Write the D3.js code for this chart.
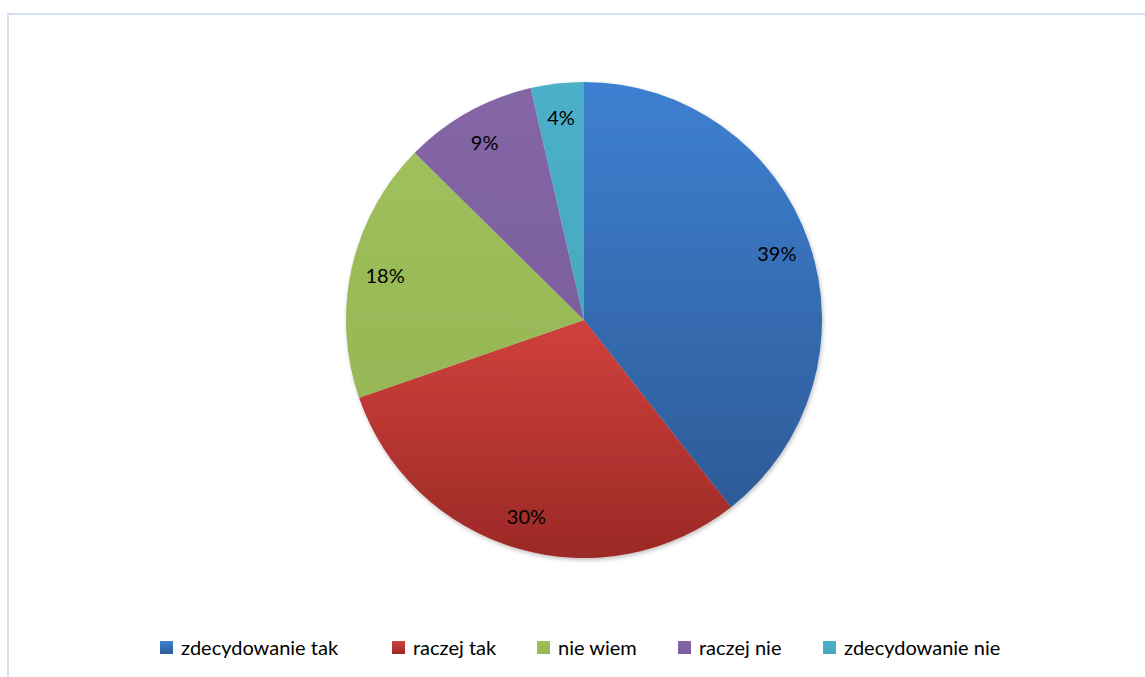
<!DOCTYPE html>
<html><head><meta charset="utf-8">
<script src="https://cdn.jsdelivr.net/npm/d3@7"></script>
<style>body{margin:0;background:#fff;} svg{display:block;}</style>
</head><body>
<script>
const categories = ["zdecydowanie tak", "raczej tak", "nie wiem", "raczej nie", "zdecydowanie nie"];
const values = [39.4, 30.3, 17.7, 9.0, 3.6];
const labels = ["39%", "30%", "18%", "9%", "4%"];
const colorsTop = ["#3e80d1", "#d0413d", "#9fc05c", "#8466a6", "#4cb0ca"];
const colorsBottom = ["#2d5b97", "#9b2926", "#97b656", "#7c609e", "#48a8c1"];

const W = 1145, H = 677;
const svg = d3.select("body").append("svg").attr("width", W).attr("height", H);
const defs = svg.append("defs");
categories.forEach((c, i) => {
  const g = defs.append("linearGradient").attr("id", "g" + i)
    .attr("x1", 0).attr("y1", 0).attr("x2", 0).attr("y2", 1);
  g.append("stop").attr("offset", "0%").attr("stop-color", colorsTop[i]);
  g.append("stop").attr("offset", "100%").attr("stop-color", colorsBottom[i]);
});
const f = defs.append("filter").attr("id", "sh").attr("x", "-10%").attr("y", "-10%").attr("width", "120%").attr("height", "120%");
f.append("feDropShadow").attr("dx", 1).attr("dy", 2).attr("stdDeviation", 2).attr("flood-color", "#000").attr("flood-opacity", 0.25);

// frame
svg.append("rect").attr("x", 8).attr("y", 14).attr("width", W).attr("height", H)
  .attr("fill", "none").attr("stroke", "#d5e1f1").attr("stroke-width", 2);

const cx = 584, cy = 320, r = 238;
const pie = d3.pie().sort(null).value(d => d)(values);
const arc = d3.arc().innerRadius(0).outerRadius(r);
const labelArc = d3.arc().innerRadius(204).outerRadius(204);
const g = svg.append("g").attr("transform", `translate(${cx},${cy})`);
g.append("g").attr("filter", "url(#sh)").selectAll("path").data(pie).join("path")
  .attr("d", arc).attr("fill", (d, i) => `url(#g${i})`);
g.selectAll("text").data(pie).join("text")
  .attr("transform", d => `translate(${labelArc.centroid(d)})`)
  .attr("text-anchor", "middle").attr("dominant-baseline", "central")
  .attr("font-family", "Lato, 'Open Sans', sans-serif").attr("font-size", 20).attr("fill", "#000")
  .text((d, i) => labels[i]);

// legend
const legendX = [160, 392, 537, 678, 823];
const lg = svg.append("g");
const items = lg.selectAll("g").data(categories).join("g")
  .attr("transform", (d, i) => `translate(${legendX[i]},655)`);
items.append("rect").attr("width", 13).attr("height", 13).attr("y", -14)
  .attr("fill", (d, i) => `url(#g${i})`);
items.append("text").attr("x", 21).attr("y", 0)
  .attr("font-family", "Lato, 'Open Sans', sans-serif").attr("font-size", 20).attr("fill", "#000")
  .text(d => d);
</script>
</body></html>
